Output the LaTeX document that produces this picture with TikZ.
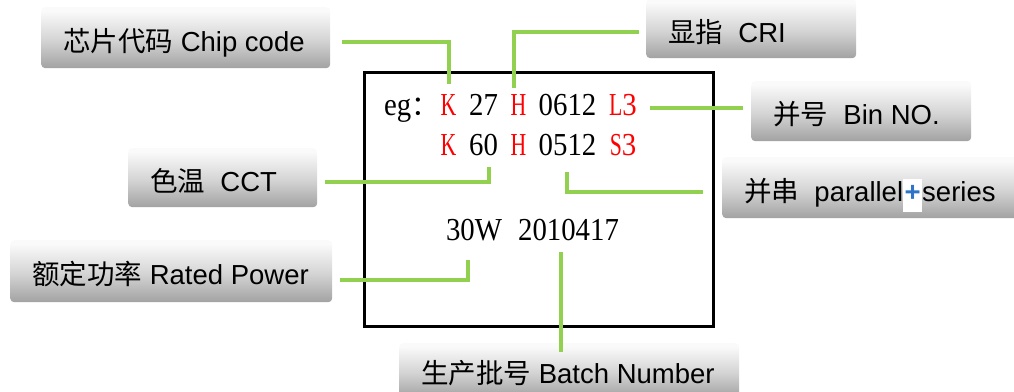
\documentclass[tikz,border=0pt]{standalone}
\usepackage{fontspec}
\setmainfont{Liberation Serif}
\newfontfamily\sansf{Liberation Sans}
\newfontfamily\cjk{Noto Sans CJK SC}
\newfontfamily\mainf[FakeStretch=0.9]{Liberation Serif}
\newfontfamily\narrowf[FakeStretch=0.68]{Liberation Serif}
\definecolor{lgreen}{RGB}{146,208,80}
\definecolor{lred}{RGB}{255,0,0}
\definecolor{plusblue}{RGB}{46,117,200}
\definecolor{shbot}{RGB}{162,162,162}
\definecolor{shmid}{RGB}{212,212,212}
\definecolor{shtop}{RGB}{250,250,250}
\pgfdeclareverticalshading{boxshade}{100bp}{color(0bp)=(shbot); color(25bp)=(shbot); color(48bp)=(shmid); color(72bp)=(shtop); color(100bp)=(shtop)}
\begin{document}
\begin{tikzpicture}[x=1pt,y=-1pt,
  lbox/.style={shading=boxshade, rounded corners=4pt, inner xsep=22pt, inner ysep=0pt, anchor=north west, text height=30pt, text depth=3pt, font=\sansf\fontsize{27.5}{30}\selectfont},
  link/.style={draw=lgreen, line width=4pt},
  code/.style={anchor=base, inner sep=0pt, font=\mainf\fontsize{32}{36}\selectfont},
  redcode/.style={code, text=lred, font=\narrowf\fontsize{32}{36}\selectfont}]
\useasboundingbox (0,0) rectangle (1014,391);

% labelled boxes
\node[lbox, minimum height=61pt] (chip) at (41,7) {\makebox[245pt][l]{\cjk 芯片代码\sansf{} Chip code}};
\node[lbox, minimum height=59pt] (cri) at (646,-1) {\makebox[166pt][l]{\cjk 显指\sansf{}\ \ CRI}};
\node[lbox, minimum height=60pt] (bin) at (751,81) {\makebox[176pt][l]{\cjk 并号\sansf{}\ \ Bin NO.}};
\node[lbox, minimum height=59pt] (cct) at (128,148) {\makebox[145pt][l]{\cjk 色温\sansf{}\ \ CCT}};
\node[lbox, minimum height=61pt] (par) at (722,157) {\makebox[256pt][l]{\cjk 并串\sansf{}\ \ parallel{\setlength{\fboxsep}{1.5pt}\colorbox{white}{\strut\textcolor{plusblue}{\bfseries +}}}series}};
\node[lbox, minimum height=62pt] (rated) at (10,240) {\makebox[278pt][l]{\cjk 额定功率\sansf{} Rated Power}};
\node[lbox, minimum height=54pt] (batch) at (399,343) {\makebox[296pt][l]{\cjk 生产批号\sansf{} Batch Number}};

% label plate
\node[draw, line width=3pt, minimum width=349pt, minimum height=254pt, anchor=north west, inner sep=0pt] (plate) at (363,71) {};

% codes
\node[code, anchor=base west] (eg) at (384,115) {eg{\cjk\fontsize{27.5}{30}\selectfont ：}};
\node[redcode] (K1) at (448.5,115) {K};
\node[code] (n27) at (483.5,115) {27};
\node[redcode] (H1) at (518.5,115) {H};
\node[code] (n0612) at (567.5,115) {0612};
\node[redcode] (L3) at (623,115) {L{\mainf 3}};
\node[redcode] (K2) at (448.5,155) {K};
\node[code] (n60) at (483.5,155) {60};
\node[redcode] (H2) at (518.5,155) {H};
\node[code] (n0512) at (567.5,155) {0512};
\node[redcode] (S3) at (623,155) {S{\mainf 3}};
\node[code] (n30W) at (474,240) {30W};
\node[code] (date) at (568.5,240) {2010417};

% connectors
\coordinate (c1a) at (342,42);  \coordinate (c1b) at (449,84);
\coordinate (c2a) at (639,32);  \coordinate (c2b) at (514,88);
\coordinate (c3a) at (650,108); \coordinate (c3b) at (743,108);
\coordinate (c4a) at (325,182); \coordinate (c4b) at (489,167);
\coordinate (c5a) at (567,172); \coordinate (c5b) at (703,192);
\coordinate (c6a) at (340,280); \coordinate (c6b) at (468,260);
\coordinate (c7a) at (561,252); \coordinate (c7b) at (561,352);
\draw[link] (c1a) -| (c1b);
\draw[link] (c2a) -| (c2b);
\draw[link] (c3a) -- (c3b);
\draw[link] (c4a) -| (c4b);
\draw[link] (c5a) |- (c5b);
\draw[link] (c6a) -| (c6b);
\draw[link] (c7a) -- (c7b);
\end{tikzpicture}
\end{document}
